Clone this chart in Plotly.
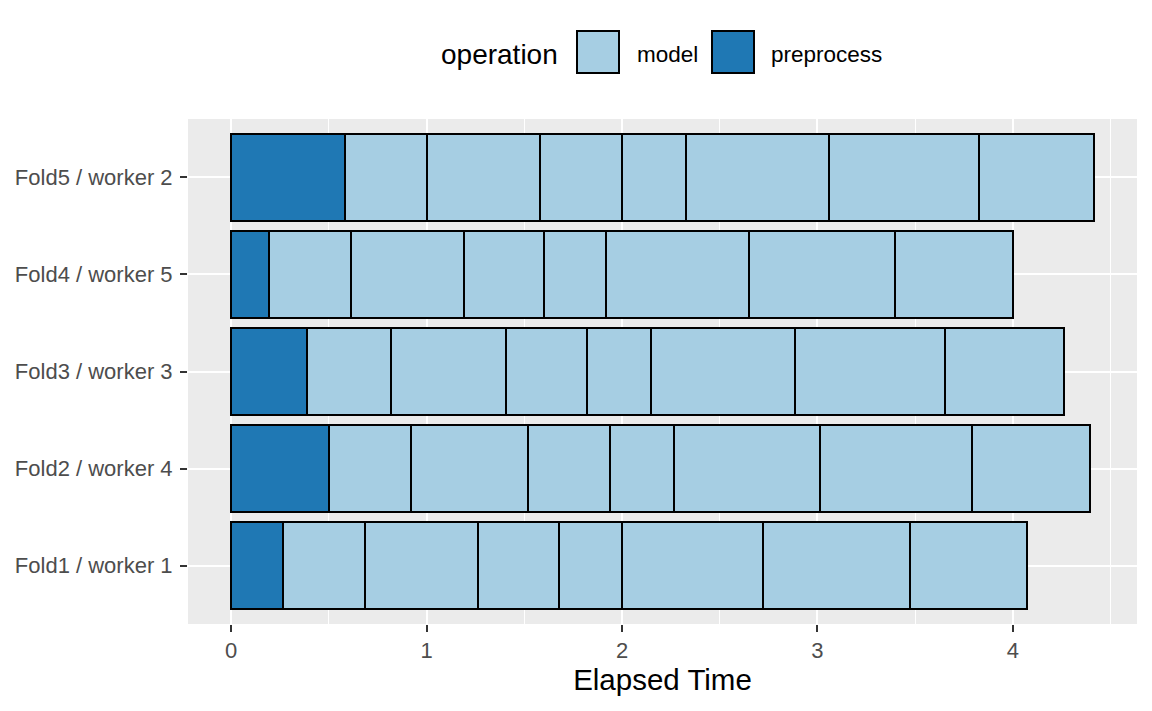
import plotly.graph_objects as go

# ---- data ----
folds = ["Fold1 / worker 1", "Fold2 / worker 4", "Fold3 / worker 3",
         "Fold4 / worker 5", "Fold5 / worker 2"]
preprocess_time = [0.266, 0.500, 0.387, 0.194, 0.583]
model_step1 = [0.419, 0.421, 0.431, 0.418, 0.420]
model_step2 = [0.578, 0.596, 0.589, 0.579, 0.578]
model_step3 = [0.415, 0.422, 0.414, 0.410, 0.419]
model_step4 = [0.322, 0.327, 0.327, 0.317, 0.327]
model_step5 = [0.721, 0.747, 0.737, 0.732, 0.732]
model_step6 = [0.752, 0.777, 0.767, 0.746, 0.767]
model_step7 = [0.599, 0.604, 0.609, 0.604, 0.588]
x_ticks = [0, 1, 2, 3, 4]

model_steps = [model_step1, model_step2, model_step3, model_step4,
               model_step5, model_step6, model_step7]

COL_MODEL = "#A6CEE3"
COL_PRE = "#1F78B4"
FONT = "Liberation Sans, Arial, sans-serif"

# page body has an 8px default margin -> figure origin at screen (8, 8)
OFF = 8
W, H = 1136, 695
# panel in screen coords: x 188..1137, y 119..624
L = 188 - OFF
R = W - (1137 - OFF)
T = 119 - OFF
B = H - (624 - OFF)
PW, PH = W - L - R, H - T - B


def px(x):
    return (x - OFF - L) / PW


def py(y):
    return (H - B - (y - OFF)) / PH


LW = 2.0
fig = go.Figure()
fig.add_trace(go.Bar(
    x=preprocess_time, y=folds, orientation="h", width=0.9,
    marker=dict(color=COL_PRE, line=dict(color="black", width=LW)),
    name="preprocess", showlegend=False))
for s in model_steps:
    fig.add_trace(go.Bar(
        x=s, y=folds, orientation="h", width=0.9,
        marker=dict(color=COL_MODEL, line=dict(color="black", width=LW)),
        name="model", showlegend=False))

totals = [sum(v) for v in zip(preprocess_time, *model_steps)]
xmax = max(totals)
pad = 0.05 * xmax

# ---- manual ggplot-style legend ----
shapes = []
annotations = []
for (x0, x1, col) in [(577, 619, COL_MODEL), (712, 754, COL_PRE)]:
    shapes.append(dict(type="rect", xref="paper", yref="paper",
                       x0=px(x0), x1=px(x1), y0=py(73), y1=py(31),
                       fillcolor=col, line=dict(color="black", width=LW)))
annotations.append(dict(text="operation", xref="paper", yref="paper",
                        x=px(439), y=py(54), xanchor="left", yanchor="middle",
                        showarrow=False, font=dict(family=FONT, size=28, color="black")))
annotations.append(dict(text="model", xref="paper", yref="paper",
                        x=px(635), y=py(54), xanchor="left", yanchor="middle",
                        showarrow=False, font=dict(family=FONT, size=22.5, color="black")))
annotations.append(dict(text="preprocess", xref="paper", yref="paper",
                        x=px(769), y=py(54), xanchor="left", yanchor="middle",
                        showarrow=False, font=dict(family=FONT, size=22.5, color="black")))

fig.update_layout(
    width=W, height=H,
    margin=dict(l=L, r=R, t=T, b=B, pad=0),
    barmode="stack",
    plot_bgcolor="#EBEBEB", paper_bgcolor="white",
    font=dict(family=FONT, color="#4D4D4D", size=22),
    shapes=shapes, annotations=annotations,
    showlegend=False,
    xaxis=dict(
        range=[-pad, xmax + pad], tickvals=x_ticks,
        showgrid=True, gridcolor="white", gridwidth=1.8,
        minor=dict(dtick=0.5, tick0=0, showgrid=True, gridcolor="white", gridwidth=0.9),
        zeroline=False, showline=False,
        ticks="outside", ticklen=7, tickwidth=1.8, tickcolor="#333333",
        tickfont=dict(size=22, color="#4D4D4D"),
        ticklabelstandoff=0,
        title=dict(text="Elapsed Time", font=dict(size=29.5, color="black"), standoff=6),
    ),
    yaxis=dict(
        categoryorder="array", categoryarray=folds,
        range=[-0.6, len(folds) - 0.4],
        showgrid=True, gridcolor="white", gridwidth=1.8,
        zeroline=False, showline=False,
        ticks="outside", ticklen=7, tickwidth=1.8, tickcolor="#333333",
        tickfont=dict(size=22, color="#4D4D4D"),
        ticklabelstandoff=3,
    ),
)

fig.write_html("out.html")
